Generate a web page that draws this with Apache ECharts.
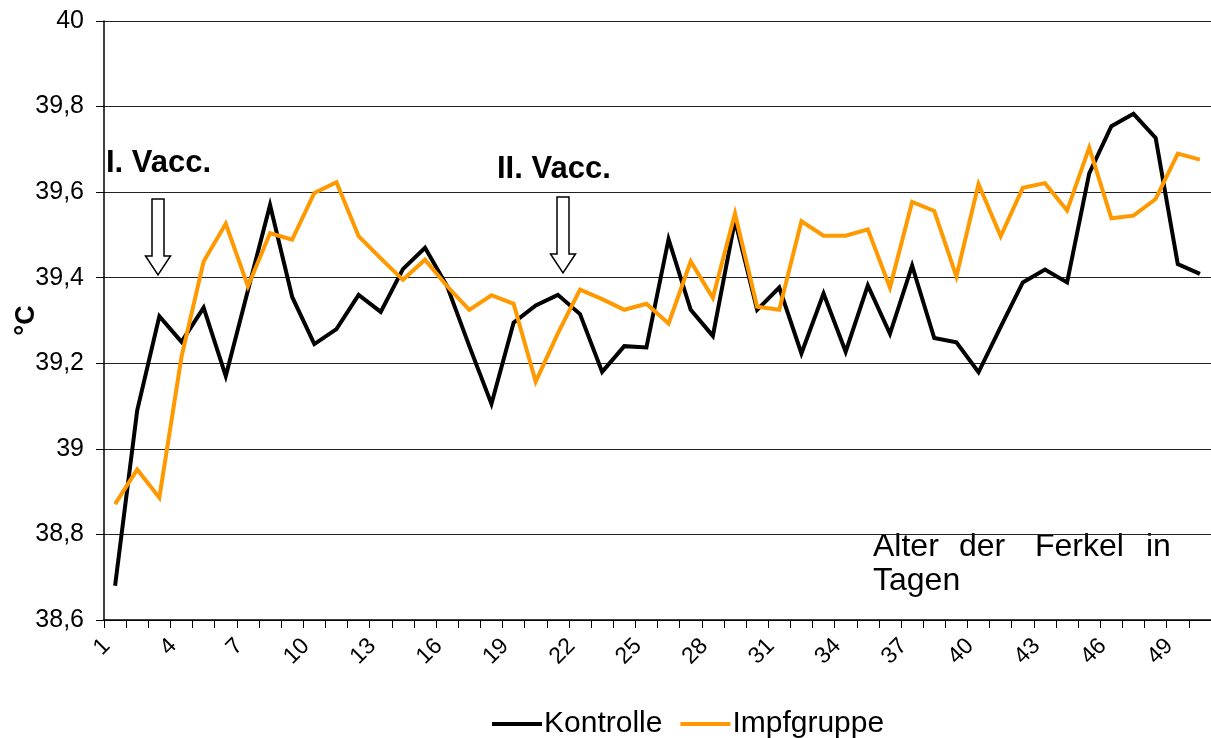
<!DOCTYPE html>
<html>
<head>
<meta charset="utf-8">
<script src="https://cdn.jsdelivr.net/npm/echarts@6/dist/echarts.min.js"></script>
<style>
  html, body { margin: 0; padding: 0; background: #fff; }
  #chart { width: 1211px; height: 738px; }
</style>
</head>
<body>
<div id="chart"></div>
<script>
// age of the piglets in days
const days = ['1', '2', '3', '4', '5', '6', '7', '8', '9', '10',
  '11', '12', '13', '14', '15', '16', '17', '18', '19', '20',
  '21', '22', '23', '24', '25', '26', '27', '28', '29', '30',
  '31', '32', '33', '34', '35', '36', '37', '38', '39', '40',
  '41', '42', '43', '44', '45', '46', '47', '48', '49', '50']

const kontrolle = [38.68, 39.09, 39.31, 39.25, 39.33, 39.17, 39.37, 39.57, 39.355, 39.245,
  39.28, 39.36, 39.32, 39.42, 39.47, 39.38, 39.24, 39.105, 39.295, 39.335,
  39.36, 39.315, 39.18, 39.24, 39.237, 39.49, 39.325, 39.264, 39.534, 39.325,
  39.377, 39.223, 39.363, 39.227, 39.382, 39.269, 39.428, 39.259, 39.249, 39.179,
  39.285, 39.389, 39.419, 39.389, 39.644, 39.754, 39.783, 39.727, 39.432, 39.409]

const impfgruppe = [38.871, 38.952, 38.886, 39.215, 39.438, 39.526, 39.38, 39.504, 39.489, 39.598,
  39.623, 39.497, 39.445, 39.395, 39.442, 39.38, 39.325, 39.359, 39.339, 39.157,
  39.27, 39.372, 39.35, 39.325, 39.339, 39.293, 39.438, 39.353, 39.55, 39.332,
  39.325, 39.532, 39.498, 39.498, 39.513, 39.377, 39.577, 39.556, 39.403, 39.619,
  39.497, 39.61, 39.621, 39.557, 39.704, 39.539, 39.545, 39.584, 39.69, 39.676]

const yTicks = { min: 38.6, max: 40, step: 0.2 }

const FONT = "'Liberation Sans', Arial, sans-serif"

function fmtTemp(v) {
  return String(Math.round(v * 10) / 10).replace('.', ',')
}

// hollow down arrow as polygon points
function arrow(cx, top, tip) {
  const headTop = tip - 19
  return [[cx - 6, top], [cx + 6, top], [cx + 6, headTop], [cx + 12.5, headTop],
    [cx, tip], [cx - 12.5, headTop], [cx - 6, headTop]]
}

// left/top are the text box corner
function textEl(x, y, text, size, bold) {
  return {
    type: 'text', left: x, top: y,
    style: {
      text, fill: '#000',
      font: (bold ? 'bold ' : '') + size + 'px ' + FONT
    }
  }
}

const chart = echarts.init(document.getElementById('chart'))

chart.setOption({
  animation: false,
  backgroundColor: '#fff',
  textStyle: { fontFamily: FONT },
  color: ['#000000', '#FF9900'],
  grid: { left: 104, right: 0, top: 21, bottom: 118, containLabel: false, outerBoundsMode: 'none' },
  legend: {
    left: 487, top: 704,
    itemWidth: 50, itemHeight: 4, itemGap: 18,
    icon: 'rect',
    textStyle: { color: '#000', fontSize: 30, fontFamily: FONT, padding: [0, 0, 0, -3] },
    data: ['Kontrolle', 'Impfgruppe']
  },
  xAxis: {
    type: 'category',
    data: days,
    boundaryGap: true,
    axisLine: { lineStyle: { color: '#000', width: 1.5 } },
    axisTick: { show: true, interval: 0, length: 8, lineStyle: { color: '#000', width: 1 } },
    axisLabel: {
      interval: 2, rotate: 45, margin: 14, padding: [0, 12, 0, 0],
      color: '#000', fontSize: 23, fontFamily: FONT
    },
    splitLine: { show: false }
  },
  yAxis: {
    type: 'value',
    min: yTicks.min, max: yTicks.max, interval: yTicks.step,
    name: '°C',
    nameLocation: 'middle',
    nameGap: 64,
    nameMoveOverlap: false,
    nameTextStyle: { color: '#000', fontSize: 27, fontWeight: 'bold', fontFamily: FONT },
    axisLine: { show: true, lineStyle: { color: '#000', width: 1.5 } },
    axisTick: { show: true, inside: false, length: 8, lineStyle: { color: '#000' } },
    axisLabel: { formatter: fmtTemp, margin: 20, color: '#000', fontSize: 25, fontFamily: FONT },
    splitLine: { lineStyle: { color: '#222', width: 1.2 } }
  },
  series: [
    {
      name: 'Kontrolle', type: 'line', data: kontrolle,
      showSymbol: false, symbol: 'none',
      lineStyle: { color: '#000', width: 4, join: 'miter' }
    },
    {
      name: 'Impfgruppe', type: 'line', data: impfgruppe,
      showSymbol: false, symbol: 'none',
      lineStyle: { color: '#FF9900', width: 4, join: 'miter' }
    }
  ],
  graphic: [
    textEl(106, 148, 'I. Vacc.', 31, true),
    textEl(497, 154, 'II. Vacc.', 31, true),
    { type: 'polygon', shape: { points: arrow(158, 199, 275) }, style: { fill: '#fff', stroke: '#000', lineWidth: 1.5 } },
    { type: 'polygon', shape: { points: arrow(563, 197, 273) }, style: { fill: '#fff', stroke: '#000', lineWidth: 1.5 } },
    textEl(873, 531, 'Alter', 32),
    textEl(959, 531, 'der', 32),
    textEl(1035, 531, 'Ferkel', 32),
    textEl(1146, 531, 'in', 32),
    textEl(873, 565, 'Tagen', 32)
  ]
})
</script>
</body>
</html>
